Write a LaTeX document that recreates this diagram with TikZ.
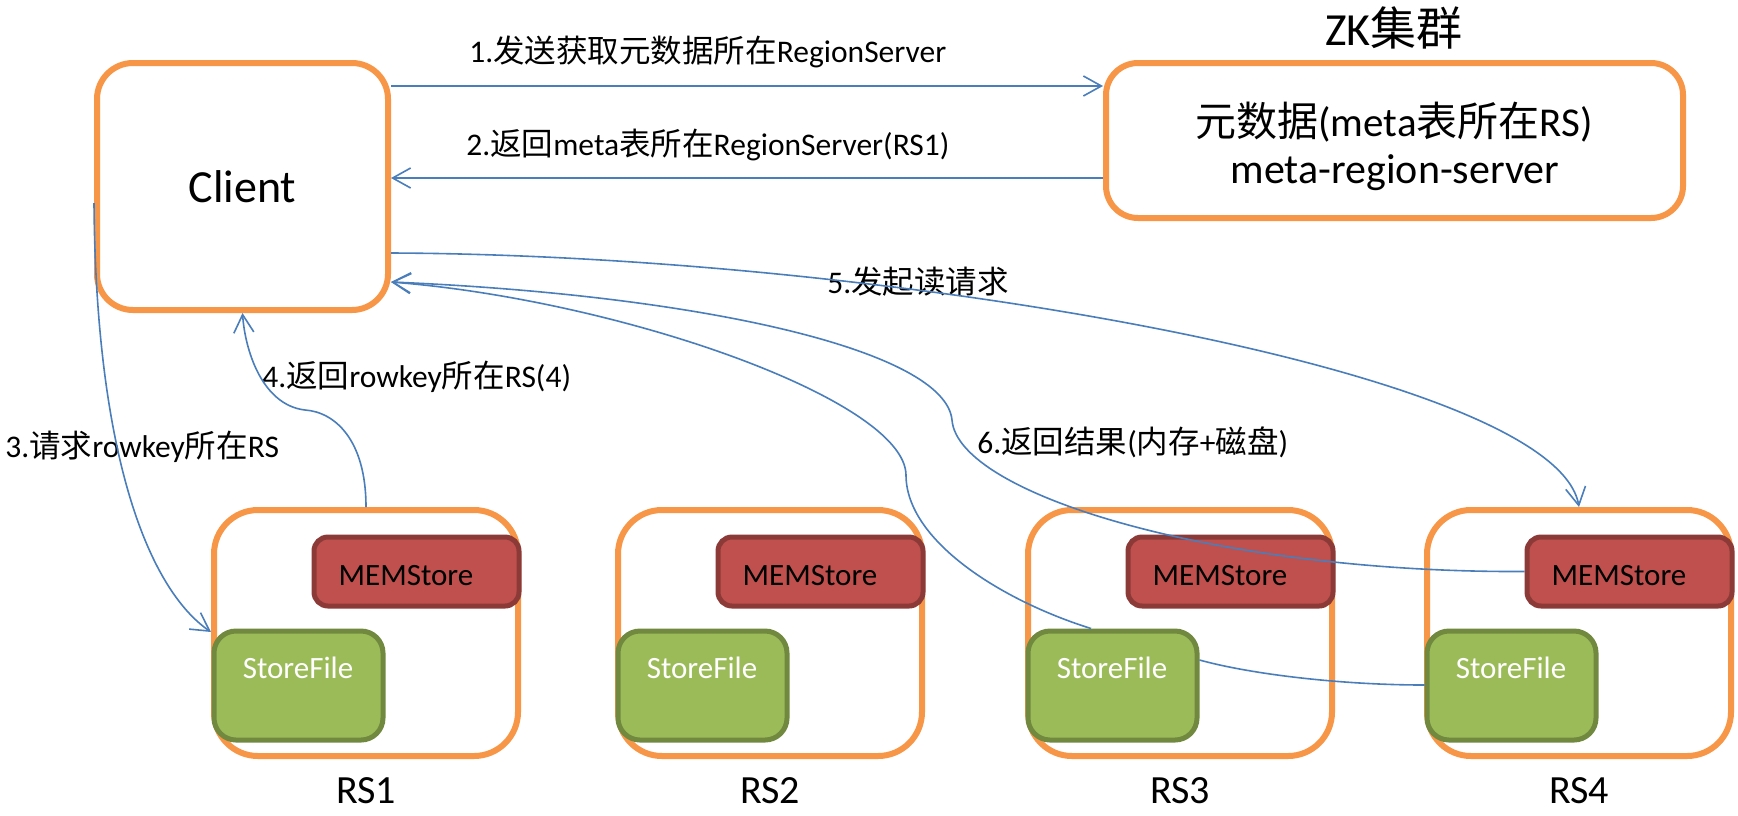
\documentclass[tikz,border=0pt]{standalone}
\usepackage{fontspec}
\setmainfont{Carlito}
\newfontfamily\cjkfont{Noto Sans CJK SC}
\newcommand{\zh}[1]{{\cjkfont #1}}
\usetikzlibrary{arrows.meta}
\definecolor{orng}{HTML}{F79646}
\definecolor{lnblue}{HTML}{4A7EBB}
\definecolor{memfill}{HTML}{C0504D}
\definecolor{memline}{HTML}{8C3A38}
\definecolor{sffill}{HTML}{9BBB59}
\definecolor{sfline}{HTML}{71893F}
\tikzset{
  outerbox/.style={draw=orng, line width=3pt, fill=white, inner sep=0pt},
  rsbox/.style={outerbox, rounded corners=22pt, minimum width=152pt, minimum height=123pt},
  membox/.style={draw=memline, fill=memfill, line width=2.5pt, rounded corners=7pt,
    minimum width=102.5pt, minimum height=34.5pt, inner sep=0pt},
  sfbox/.style={draw=sfline, fill=sffill, line width=2.5pt, rounded corners=11pt,
    minimum width=84.5pt, minimum height=54.5pt, inner sep=0pt},
  boxtext/.style={inner sep=0pt, font=\fontsize{15.5pt}{18pt}\selectfont},
  lbl/.style={inner sep=0pt, anchor=west, font=\fontsize{15.75pt}{18pt}\selectfont},
  rslabel/.style={inner sep=0pt, font=\fontsize{20pt}{24pt}\selectfont},
  conn/.style={draw=lnblue, line width=0.8pt, -{Straight Barb[length=9pt,width=10pt]}},
  plainline/.style={draw=lnblue, line width=0.8pt},
}
\begin{document}
\begin{tikzpicture}[x=0.5pt,y=-0.5pt]
\useasboundingbox (0,0) rectangle (1738,815);

% Client and ZK
\node[outerbox, rounded corners=18pt, minimum width=145.5pt, minimum height=123.5pt,
      font=\fontsize{23pt}{27pt}\selectfont] (client) at (242.5,186.5) {Client};
\node[outerbox, rounded corners=16pt, minimum width=288.5pt, minimum height=77.5pt] (zk) at (1394.5,140.5) {};
\node[inner sep=0pt, font=\fontsize{23pt}{27pt}\selectfont] (zktitle) at (1394,28) {ZK\zh{集群}};
\node[inner sep=0pt, font=\fontsize{20.5pt}{24pt}\selectfont] (zkt1) at (1394,122) {\zh{元数据}(meta\zh{表所在}RS)};
\node[inner sep=0pt, font=\fontsize{21pt}{24pt}\selectfont] (zkt2) at (1395,173) {meta-region-server};

% Region servers
\foreach \i/\cx in {1/366, 2/770, 3/1180, 4/1579}{
  \node[rsbox] (rs\i) at (\cx,633) {};
  \node[membox] (ms\i) at (\cx+50.5,571.5) {};
  \node[boxtext] (mst\i) at (\cx+40,576) {MEMStore};
  \node[sfbox] (sf\i) at (\cx-67.5,685.5) {};
  \node[boxtext, text=white] (sft\i) at (\cx-68,668) {StoreFile};
  \node[rslabel] (rsl\i) at (\cx,791) {RS\i};
}

% Labels
\node[lbl] (l1) at (469,52) {1.\zh{发送获取元数据所在}RegionServer};
\node[lbl] (l2) at (466,145) {2.\zh{返回}meta\zh{表所在}RegionServer(RS1)};
\node[lbl] (l3) at (5,447) {3.\zh{请求}rowkey\zh{所在}RS};
\node[lbl] (l4) at (262,377) {4.\zh{返回}rowkey\zh{所在}RS(4)};
\node[lbl] (l5) at (827,282) {5.\zh{发起读请求}};
\node[lbl] (l6) at (977,442) {6.\zh{返回结果}(\zh{内存}+\zh{磁盘})};

% Connectors
\draw[conn] (client.east |- 0,86) -- (zk.west |- 0,86);
\draw[conn] (zk.west |- 0,178) -- (client.east |- 0,178);
\draw[conn] (client.west |- 0,203) .. controls (96,460) and (150,590) .. (rs1.west |- 0,632);
\coordinate (m4) at (305,410);
\draw[conn] (rs1.north) .. controls (366,440) and (335,412) .. (m4)
            .. controls (262,405) and (245,350) .. (client.south);
\draw[conn] (client.east |- 0,253) .. controls (880,255) and (1555,370) .. (rs4.north);
\coordinate (mA) at (952,420);
\draw[conn] (ms4.west) .. controls (1220,573) and (958,495) .. (mA)
            .. controls (945,350) and (700,295) .. (client.east |- 0,282);
\coordinate (mB) at (906,475);
\draw[conn] (sf3.north -| 1091,0) .. controls (1000,600) and (906,540) .. (mB)
            .. controls (905,400) and (620,300) .. (client.east |- 0,282);
\draw[plainline] (sf3.east |- 0,660) .. controls (1250,674) and (1340,685) .. (sf4.west |- 0,685);
\end{tikzpicture}
\end{document}
